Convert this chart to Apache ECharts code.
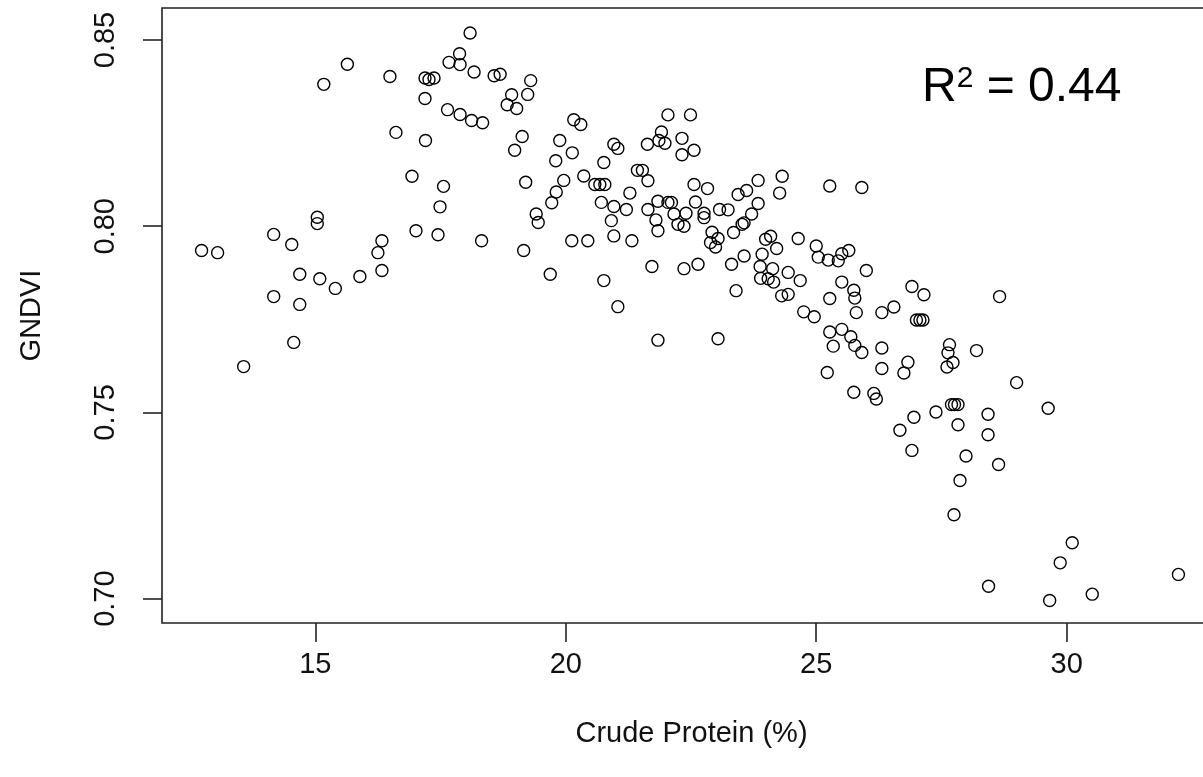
<!DOCTYPE html>
<html>
<head>
<meta charset="utf-8">
<script src="https://cdn.jsdelivr.net/npm/echarts@6/dist/echarts.min.js"></script>
<style>
  html, body { margin: 0; padding: 0; background: #fff; overflow: hidden; width: 1203px; height: 777px; }
  /* the plot box runs past the right edge of the page, so the chart is wider than the window */
  #chart { width: 1240px; height: 777px; }
</style>
</head>
<body>
<div id="chart"></div>
<script>
// Crude protein (%) of each sample
const crudeProtein = [
  12.73, 13.05, 13.57, 14.17, 14.53, 14.17, 14.69, 14.69, 14.57, 15.09,
  15.40, 15.04, 15.04, 15.89, 16.25, 16.33, 16.33, 17.01, 17.45, 18.32,
  17.49, 18.09, 15.64, 15.17, 16.49, 17.19, 17.27, 17.37, 17.88, 17.67,
  17.89, 18.17, 18.57, 18.69, 18.92, 18.83, 17.19, 17.64, 17.89, 18.12,
  18.34, 16.61, 17.20, 16.93, 17.56, 18.98, 19.30, 19.24, 19.02, 20.16,
  20.30, 19.13, 19.88, 19.80, 20.13, 19.20, 19.96, 19.81, 19.72, 20.36,
  20.58, 20.68, 20.78, 20.76, 20.96, 21.04, 21.28, 20.71, 20.96, 21.21,
  19.41, 19.45, 21.43, 21.53, 21.64, 21.63, 21.91, 21.86, 21.98, 22.04,
  22.49, 22.32, 22.32, 22.56, 22.56, 22.83, 21.84, 22.04, 22.11, 21.64,
  22.59, 22.76, 22.76, 23.07, 23.24, 23.44, 23.61, 23.84, 23.84, 23.71,
  24.32, 24.27, 25.27, 25.91, 22.40, 22.16, 19.16, 20.12, 20.44, 19.69,
  20.76, 21.04, 20.91, 20.96, 21.32, 21.80, 21.84, 21.72, 21.84, 22.24,
  22.36, 22.36, 22.64, 22.92, 23.04, 22.89, 22.99, 23.35, 23.52, 23.56,
  23.04, 23.40, 23.31, 23.56, 23.92, 23.88, 23.99, 24.09, 24.21, 23.89,
  24.04, 24.13, 24.15, 24.44, 24.68, 24.64, 24.31, 24.44, 24.75, 24.96,
  25.00, 25.04, 25.24, 25.44, 25.51, 25.65, 25.51, 25.27, 25.27, 25.51,
  25.34, 25.69, 25.22, 25.75, 26.00, 25.75, 25.77, 25.80, 26.31, 26.55,
  26.91, 27.15, 28.66, 27.00, 27.07, 27.13, 25.91, 25.77, 26.31, 26.31,
  26.83, 26.75, 27.66, 27.63, 27.73, 27.61, 28.20, 29.00, 29.63, 26.15,
  26.20, 26.95, 27.39, 27.70, 27.76, 27.83, 28.43, 27.83, 26.67, 28.43,
  26.91, 27.99, 28.64, 27.87, 27.75, 30.11, 29.87, 32.23, 28.44, 29.66,
  30.51
];

// GNDVI of the same samples, in the same order
const gndvi = [
  0.7935, 0.7929, 0.7623, 0.7978, 0.7951, 0.7811, 0.7871, 0.7790, 0.7688, 0.7859,
  0.7833, 0.8024, 0.8007, 0.7865, 0.7929, 0.7961, 0.7881, 0.7988, 0.7977, 0.7961,
  0.8052, 0.8519, 0.8435, 0.8381, 0.8402, 0.8398, 0.8394, 0.8398, 0.8463, 0.8440,
  0.8434, 0.8414, 0.8404, 0.8408, 0.8353, 0.8326, 0.8343, 0.8313, 0.8300, 0.8284,
  0.8278, 0.8252, 0.8230, 0.8134, 0.8107, 0.8204, 0.8391, 0.8354, 0.8316, 0.8286,
  0.8273, 0.8241, 0.8230, 0.8176, 0.8197, 0.8118, 0.8123, 0.8092, 0.8063, 0.8135,
  0.8112, 0.8112, 0.8112, 0.8171, 0.8220, 0.8209, 0.8089, 0.8064, 0.8053, 0.8045,
  0.8033, 0.8010, 0.8150, 0.8150, 0.8122, 0.8220, 0.8253, 0.8230, 0.8223, 0.8299,
  0.8299, 0.8236, 0.8192, 0.8204, 0.8112, 0.8101, 0.8067, 0.8064, 0.8064, 0.8045,
  0.8065, 0.8035, 0.8023, 0.8045, 0.8044, 0.8085, 0.8096, 0.8123, 0.8061, 0.8033,
  0.8134, 0.8089, 0.8108, 0.8104, 0.8035, 0.8033, 0.7935, 0.7961, 0.7961, 0.7871,
  0.7854, 0.7784, 0.8015, 0.7974, 0.7961, 0.8017, 0.7988, 0.7892, 0.7694, 0.8005,
  0.8000, 0.7886, 0.7898, 0.7984, 0.7967, 0.7956, 0.7944, 0.7983, 0.8005, 0.8009,
  0.7698, 0.7827, 0.7898, 0.7920, 0.7925, 0.7892, 0.7965, 0.7973, 0.7940, 0.7860,
  0.7859, 0.7886, 0.7850, 0.7876, 0.7854, 0.7967, 0.7813, 0.7817, 0.7770, 0.7757,
  0.7947, 0.7917, 0.7909, 0.7907, 0.7926, 0.7935, 0.7850, 0.7806, 0.7716, 0.7723,
  0.7678, 0.7703, 0.7607, 0.7554, 0.7881, 0.7828, 0.7807, 0.7768, 0.7768, 0.7783,
  0.7838, 0.7816, 0.7811, 0.7748, 0.7748, 0.7748, 0.7661, 0.7680, 0.7673, 0.7618,
  0.7635, 0.7606, 0.7682, 0.7660, 0.7634, 0.7622, 0.7666, 0.7580, 0.7511, 0.7551,
  0.7536, 0.7487, 0.7501, 0.7521, 0.7521, 0.7521, 0.7495, 0.7467, 0.7452, 0.7440,
  0.7398, 0.7383, 0.7360, 0.7317, 0.7225, 0.7150, 0.7096, 0.7065, 0.7033, 0.6995,
  0.7012
];

// Tick positions on each axis
const xTicks = [15, 20, 25, 30];
const yTicks = [0.70, 0.75, 0.80, 0.85];

const FONT = '"Liberation Sans", Arial, sans-serif';
const INK = '#111';

const points = crudeProtein.map((x, i) => [x, gndvi[i]]);

const chart = echarts.init(document.getElementById('chart'), null, { renderer: 'canvas' });

chart.setOption({
  animation: false,
  backgroundColor: '#fff',
  grid: {
    show: true,
    left: 162,
    top: 8,
    width: 1059,
    height: 615,
    borderColor: '#222',
    borderWidth: 1.6,
    backgroundColor: 'transparent'
  },
  xAxis: {
    type: 'value',
    min: 11.94,
    max: 33.08,
    name: 'Crude Protein (%)',
    nameLocation: 'middle',
    nameGap: 96,
    nameTextStyle: { fontFamily: FONT, fontSize: 29, color: INK },
    axisLine: { show: false },
    axisTick: {
      show: true,
      length: 19,
      customValues: xTicks,
      lineStyle: { color: '#222', width: 1.6 }
    },
    axisLabel: {
      customValues: xTicks,
      margin: 27,
      fontFamily: FONT,
      fontSize: 29,
      color: INK,
      formatter: v => String(v)
    },
    splitLine: { show: false }
  },
  yAxis: {
    type: 'value',
    min: 0.69345,
    max: 0.8586,
    name: 'GNDVI',
    nameLocation: 'middle',
    nameRotate: 90,
    nameGap: 116,
    nameTextStyle: { fontFamily: FONT, fontSize: 29, color: INK },
    axisLine: { show: false },
    axisTick: {
      show: true,
      length: 19,
      customValues: yTicks,
      lineStyle: { color: '#222', width: 1.6 }
    },
    axisLabel: {
      customValues: yTicks,
      rotate: 90,
      margin: 42,
      fontFamily: FONT,
      fontSize: 29,
      color: INK,
      formatter: v => v.toFixed(2)
    },
    splitLine: { show: false }
  },
  graphic: [
    {
      type: 'text',
      left: 922,
      top: 64,
      style: {
        text: 'R{sup|2} = 0.44',
        fontFamily: FONT,
        fontSize: 48,
        fill: '#000',
        rich: {
          sup: { fontFamily: FONT, fontSize: 30, fill: '#000', verticalAlign: 'top', lineHeight: 30 }
        }
      }
    }
  ],
  series: [
    {
      type: 'scatter',
      data: points,
      symbol: 'circle',
      symbolSize: 12,
      itemStyle: { color: 'rgba(0,0,0,0)', borderColor: '#000', borderWidth: 1.4, opacity: 1 },
      emphasis: { disabled: true },
      silent: true
    }
  ]
});
</script>
</body>
</html>
